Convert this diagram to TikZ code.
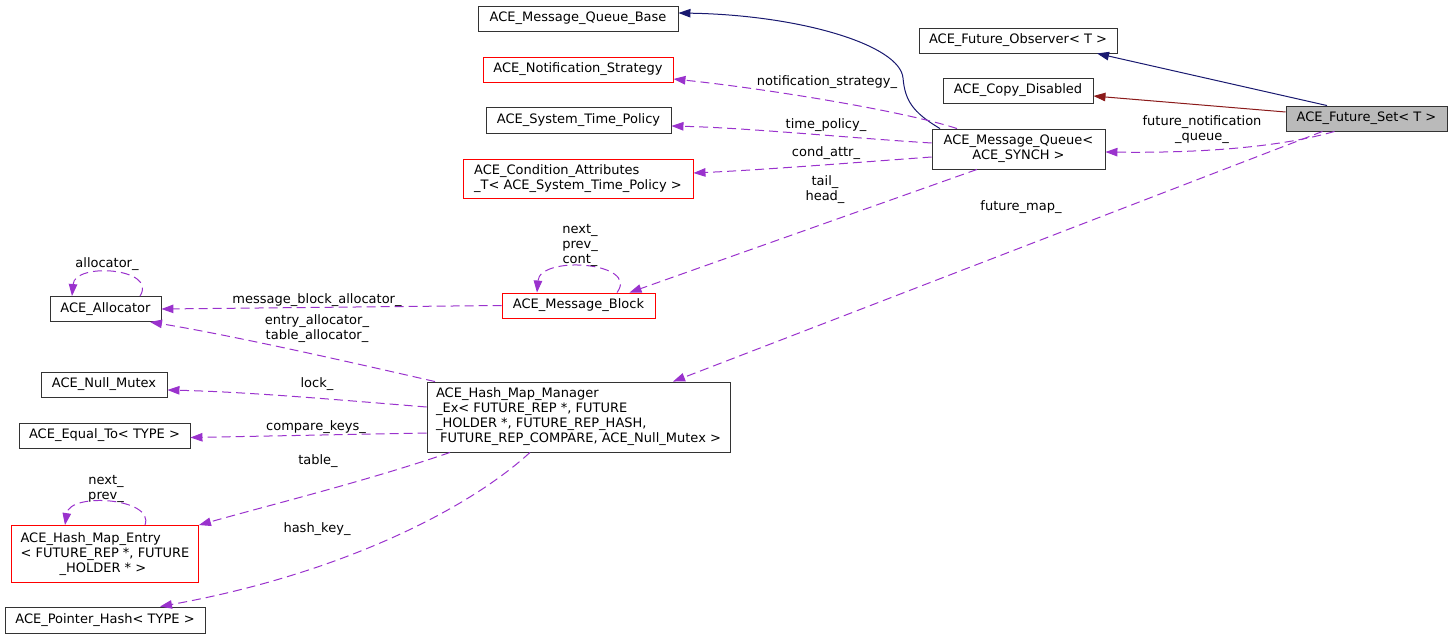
\documentclass[tikz,border=0pt]{standalone}
\usepackage{fontspec}
\setmainfont{DejaVu Sans}
\usepackage{tikz}
\usetikzlibrary{arrows.meta}
\definecolor{inheritblue}{HTML}{191970}
\definecolor{privred}{HTML}{8B1A1A}
\definecolor{usepurple}{HTML}{9A32CD}
\newcommand{\mkclass}[4]{\node[classbox,#1] (#2) at #3 {#4} ;}
\newcommand{\mklabel}[3]{\node[memberlabel] (#1) at #2 {#3} ;}
\tikzset{
    classbox/.style={
        draw=black!80,
        fill=white,
        inner sep=0,
        line width=0.9pt,
        font=\fontsize{13}{15}\selectfont,
        align=center,
    },
    redbox/.style={draw=red},
    curbox/.style={fill=black!27},
    memberlabel/.style={
        inner sep=0,
        font=\fontsize{13}{15}\selectfont,
        align=center,
    },
    inherit/.style={
        draw=inheritblue,
        line width=1pt,
        -{Triangle[length=12pt,width=8.5pt]},
    },
    privinherit/.style={inherit, draw=privred},
    usage/.style={
        draw=usepurple,
        line width=1pt,
        dash pattern=on 9pt off 5pt,
        -{Triangle[length=12pt,width=8.5pt]},
    },
}

\begin{document}
\begin{tikzpicture}[x=1pt,y=-1pt]
            \useasboundingbox (0,0) rectangle (1453,639);

            % classes
            \mkclass{minimum width=200pt,minimum height=25pt}{Base}{(578,18.5)}{ACE\_Message\_Queue\_Base}
            \mkclass{redbox,minimum width=190pt,minimum height=25pt}{Notif}{(578,69.5)}{ACE\_Notification\_Strategy}
            \mkclass{minimum width=185pt,minimum height=26pt}{STP}{(578.5,120)}{ACE\_System\_Time\_Policy}
            \mkclass{redbox,align=left,minimum width=230pt,minimum height=39pt}{Cond}{(578,178.5)}{ACE\_Condition\_Attributes\\\_T< ACE\_System\_Time\_Policy >}
            \mkclass{minimum width=198pt,minimum height=25pt}{Obs}{(1018,40.5)}{ACE\_Future\_Observer< T >}
            \mkclass{minimum width=150pt,minimum height=25pt}{Copy}{(1018,90.5)}{ACE\_Copy\_Disabled}
            \mkclass{curbox,minimum width=161pt,minimum height=25pt}{FSet}{(1366.5,118.5)}{ACE\_Future\_Set< T >}
            \mkclass{minimum width=173pt,minimum height=40pt}{MQ}{(1018.5,149)}{ACE\_Message\_Queue<\\ACE\_SYNCH >}
            \mkclass{minimum width=111pt,minimum height=25pt}{Alloc}{(105.5,309)}{ACE\_Allocator}
            \mkclass{redbox,minimum width=153pt,minimum height=25pt}{MB}{(578.5,305.5)}{ACE\_Message\_Block}
            \mkclass{minimum width=126pt,minimum height=25pt}{Null}{(104,384.5)}{ACE\_Null\_Mutex}
            \mkclass{minimum width=171pt,minimum height=25pt}{Equal}{(104.5,435.5)}{ACE\_Equal\_To< TYPE >}
            \mkclass{align=left,minimum width=303pt,minimum height=70pt}{HM}{(578.5,417)}{ACE\_Hash\_Map\_Manager\\\_Ex< FUTURE\_REP *, FUTURE\\\_HOLDER *, FUTURE\_REP\_HASH,\\\hspace*{4pt}FUTURE\_REP\_COMPARE, ACE\_Null\_Mutex >}
            \mkclass{redbox,align=left,minimum width=187pt,minimum height=57pt}{Entry}{(105,554)}{ACE\_Hash\_Map\_Entry\\< FUTURE\_REP *, FUTURE\\\hspace*{39pt}\_HOLDER * >}
            \mkclass{minimum width=200pt,minimum height=26pt}{PHash}{(105,620)}{ACE\_Pointer\_Hash< TYPE >}

            % inheritance
            \draw[inherit] ([xshift=-78.5pt]MQ.north) .. controls (912,112) and (905,100) .. (903,78)
                .. controls (900,45) and (800,15) .. ([yshift=5.5pt]Base.east);
            \draw[inherit] ([xshift=-39.5pt]FSet.north) -- ([xshift=79pt]Obs.south);
            \draw[privinherit] ([yshift=6.5pt]FSet.west) -- ([yshift=-5.5pt]Copy.east);

            % members
            \draw[usage] ([xshift=-61.5pt]MQ.north) .. controls (900,110) and (760,88) .. ([yshift=-9.5pt]Notif.east);
            \draw[usage] ([yshift=6pt]MQ.west) .. controls (850,138) and (750,128) .. ([yshift=-6pt]STP.east);
            \draw[usage] ([yshift=-8pt]MQ.west) .. controls (850,163) and (760,170) .. ([yshift=5.5pt]Cond.east);
            \draw[usage] ([xshift=-41.5pt]MQ.south) -- ([xshift=51pt]MB.north);
            \draw[usage] ([xshift=38.5pt]MB.north) .. controls (640,262) and (540,255) .. ([xshift=-41.5pt]MB.north);
            \draw[usage] (MB.west) -- (Alloc.east);
            \draw[usage] ([xshift=34.5pt]Alloc.north) .. controls (158,268) and (75,262) .. ([xshift=-33.5pt]Alloc.north);
            \draw[usage] ([xshift=-143.5pt]HM.north) .. controls (350,362) and (230,335) .. ([xshift=44.5pt]Alloc.south);
            \draw[usage] ([yshift=10pt]HM.west) .. controls (340,400) and (250,392) .. ([yshift=-5.5pt]Null.east);
            \draw[usage] ([yshift=-16pt]HM.west) -- ([yshift=-2pt]Equal.east);
            \draw[usage] ([xshift=-128.5pt]HM.south) .. controls (370,480) and (270,505) .. (Entry.north east);
            \draw[usage] ([xshift=40pt]Entry.north) .. controls (155,498) and (70,492) .. ([xshift=-40pt]Entry.north);
            \draw[usage] ([xshift=-48.5pt]HM.south) .. controls (465,512) and (335,575) .. ([xshift=55pt]PHash.north);
            \draw[usage] ([xshift=-32pt]FSet.south) .. controls (1270,150) and (1180,153) .. ([yshift=-3pt]MQ.east);
            \draw[usage] ([xshift=-44pt]FSet.south) -- ([xshift=94.5pt]HM.north);

            % member names
            \mklabel{lNotif}{(827,82)}{notification\_strategy\_}
            \mklabel{lTime}{(826,125)}{time\_policy\_}
            \mklabel{lCond}{(826,153)}{cond\_attr\_}
            \mklabel{lTail}{(825,190)}{tail\_\\head\_}
            \mklabel{lMB}{(580,245)}{next\_\\prev\_\\cont\_}
            \mklabel{lMBA}{(317,300)}{message\_block\_allocator\_}
            \mklabel{lAlloc}{(107,264)}{allocator\_}
            \mklabel{lEA}{(317,328.5)}{entry\_allocator\_\\table\_allocator\_}
            \mklabel{lLock}{(317,384)}{lock\_}
            \mklabel{lCmp}{(316,427)}{compare\_keys\_}
            \mklabel{lTable}{(318,461)}{table\_}
            \mklabel{lEntry}{(106,488.5)}{next\_\\prev\_}
            \mklabel{lHash}{(317,529)}{hash\_key\_}
            \mklabel{lFNQ}{(1202,130)}{future\_notification\\\_queue\_}
            \mklabel{lFM}{(1021,207)}{future\_map\_}
        \end{tikzpicture}
\end{document}
